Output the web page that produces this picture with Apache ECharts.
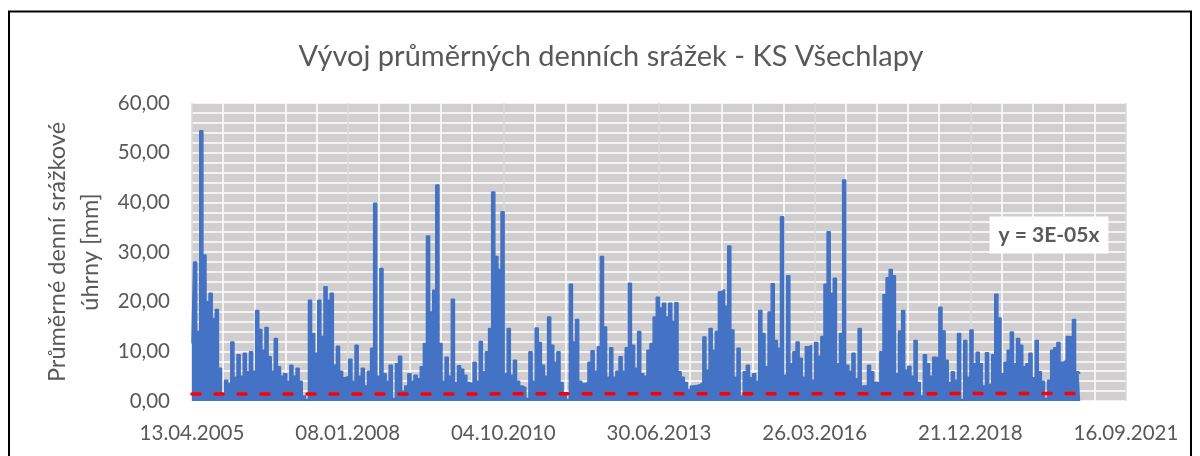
<!DOCTYPE html>
<html>
<head>
<meta charset="utf-8">
<script src="https://cdn.jsdelivr.net/npm/echarts@6/dist/echarts.min.js"></script>
<style>
  html, body { margin: 0; padding: 0; background: #fff; }
  #chart { width: 1200px; height: 456px; }
</style>
</head>
<body>
<div id="chart"></div>
<script>
  // osa x: dny od 13.04.2005, jeden vzorek ~ 20 dní (max. srážka v okně)
  const stepDays = 19.95;
  const xTickLabels = ['13.04.2005', '08.01.2008', '04.10.2010', '30.06.2013', '26.03.2016', '21.12.2018', '16.09.2021'];
  const yTickLabels = ['0,00', '10,00', '20,00', '30,00', '40,00', '50,00', '60,00'];

  // průměrné denní srážky [mm]
  const rain = [
    11.6, 28.0, 14, 54.4, 29.4, 20, 21.7, 16.6, 18.4, 6.6,
    1.5, 4.2, 3.5, 11.9, 4.8, 9.3, 5, 9.6, 5.9, 9.9,
    6, 18.2, 14.4, 10.2, 14.8, 8.9, 6, 12.6, 6.9, 5,
    5.5, 4, 7.2, 5, 6.6, 4.0, 1.0, 0.3, 20.3, 13.6,
    9.6, 20.3, 13, 23.0, 20.3, 21.7, 7.2, 11.0, 6, 4.7,
    5, 8.4, 4, 11.2, 5, 6.6, 3, 6, 10.6, 39.8,
    5, 26.7, 5.5, 4, 7.2, 0.5, 7.5, 9.0, 2, 3,
    5.5, 4, 5.2, 4.5, 6.9, 11.6, 33.2, 17.9, 22.3, 43.5,
    11.6, 4.0, 8.8, 5, 20.5, 3.7, 7.1, 6.4, 5.2, 3.7,
    3.5, 7.8, 4, 12.0, 5.9, 9.9, 14.6, 42.1, 29.1, 26.5,
    38.1, 5.5, 14.6, 5.2, 8.2, 4.0, 3, 2.7, 0.5, 9.9,
    4.0, 14.7, 11.8, 7.2, 5, 16.9, 11.2, 7.8, 9.9, 3.7,
    1.5, 0.3, 23.5, 11.9, 16.4, 4.0, 3.5, 3.7, 7.8, 10.1,
    6, 10.9, 29.1, 14.9, 4.8, 10.7, 4.8, 6, 8.9, 6,
    10.7, 23.7, 11.2, 6.6, 14.0, 5.5, 5, 10.2, 11.6, 16.9,
    20.9, 18.7, 19.7, 16.9, 19.7, 16.0, 19.8, 5.9, 4.8, 3.7,
    2.3, 3.0, 3.1, 3.3, 3.7, 12.9, 6.2, 14.6, 10.2, 14.0,
    22.0, 22.4, 19.1, 31.2, 14.3, 4.8, 10.6, 1, 5.9, 7.2,
    4.7, 5.5, 4, 18.2, 13.6, 6.9, 17.9, 23.6, 12.2, 10.6,
    37.1, 5.2, 25.2, 7.5, 9.9, 11.9, 8.6, 4.8, 10.9, 11.2,
    4.2, 11.8, 9, 13.0, 23.5, 34.1, 21.7, 24.7, 7.5, 13.6,
    44.5, 7.2, 6, 9.6, 4.5, 14.6, 3.0, 3.1, 7.2, 5.9,
    3.8, 3.7, 9.9, 21.4, 24.8, 26.5, 25.2, 5.5, 14.1, 18.2,
    6.2, 7.0, 5, 12.2, 3.7, 1, 9.3, 7.5, 5, 8.8,
    8.6, 18.9, 14.1, 8.2, 3.7, 5.9, 4.2, 13.6, 0.3, 12.2,
    4.8, 14.3, 7.5, 9.8, 7.5, 3.0, 9.7, 3.3, 9.3, 21.5,
    16.7, 5.5, 7.8, 10.2, 13.9, 7.5, 12.6, 11.2, 6.9, 7.5,
    9.6, 4.7, 12.2, 5.9, 4.0, 0.5, 4.2, 10.2, 10.7, 11.8,
    7.8, 8.2, 13.0, 12.9, 16.4, 5.9, 5.5
  ];

  // lineární trend (y = 3E-05x), hodnoty na začátku a konci řady
  const trendDays = [0, 5705];
  const trendValues = [1.4, 1.5];

  const textColor = '#595959';
  const font = 'Lato, "Noto Sans", sans-serif';

  const chart = echarts.init(document.getElementById('chart'));

  const option = {
    animation: false,
    title: {
      text: 'Vývoj průměrných denních srážek - KS Všechlapy',
      left: 606,
      top: 37,
      textAlign: 'center',
      textStyle: { color: textColor, fontFamily: font, fontSize: 29, fontWeight: 'normal' },
    },
    grid: { left: 192, right: 74, top: 103, bottom: 55, show: true, backgroundColor: '#d0cece', borderColor: '#d0cece', borderWidth: 0 },
    xAxis: {
      type: 'value',
      min: 0,
      max: 6000,
      interval: 1000,
      axisLine: { show: false },
      axisTick: { show: false },
      axisLabel: {
        color: textColor, fontFamily: font, fontSize: 20.5, margin: 22,
        formatter: (v) => xTickLabels[Math.round(v / 1000)],
      },
      splitLine: { show: true, lineStyle: { color: '#dadada', width: 1.5 } },
      minorTick: { show: false, splitNumber: 5 },
      minorSplitLine: { show: true, lineStyle: { color: '#ffffff', width: 1.5 } },
    },
    yAxis: {
      type: 'value',
      min: 0,
      max: 60,
      interval: 10,
      name: 'Průměrné denní srážkové\núhrny [mm]',
      nameLocation: 'middle',
      nameRotate: 90,
      nameGap: 80,
      nameTextStyle: { color: textColor, fontFamily: font, fontSize: 23.5, lineHeight: 33 },
      axisLine: { show: false },
      axisTick: { show: false },
      axisLabel: {
        color: textColor, fontFamily: font, fontSize: 20.5, margin: 22,
        formatter: (v) => yTickLabels[Math.round(v / 10)],
      },
      splitLine: { show: true, lineStyle: { color: '#ffffff', width: 1.5 } },
      minorTick: { show: false, splitNumber: 5 },
      minorSplitLine: { show: true, lineStyle: { color: '#ffffff', width: 1.5 } },
    },
    series: [
      {
        name: 'Srážky',
        type: 'line',
        step: 'middle',
        symbol: 'none',
        data: rain.map((v, i) => [i * stepDays, v]),
        lineStyle: { color: '#4472c4', width: 1.5 },
        areaStyle: { color: '#4472c4', opacity: 1 },
        z: 2,
      },
      {
        name: 'Lineární (Srážky)',
        type: 'line',
        symbol: 'none',
        data: trendDays.map((d, i) => [d, trendValues[i]]),
        lineStyle: { color: '#ff0000', width: 3.5, type: [8, 15], cap: 'round' },
        z: 3,
      },
    ],
    graphic: [
      {
        type: 'rect',
        shape: { x: 9, y: 11.5, width: 1182, height: 470 },
        style: { fill: 'none', stroke: '#000000', lineWidth: 2 },
        z: 10,
      },
      {
        type: 'text',
        x: 1049,
        y: 235,
        z: 10,
        style: {
          text: 'y = 3E-05x',
          fill: textColor,
          font: 'bold 21px ' + font,
          align: 'center',
          verticalAlign: 'middle',
          backgroundColor: '#ffffff',
          padding: [8, 9, 8, 9],
        },
      },
    ],
  };

  chart.setOption(option);
</script>
</body>
</html>
